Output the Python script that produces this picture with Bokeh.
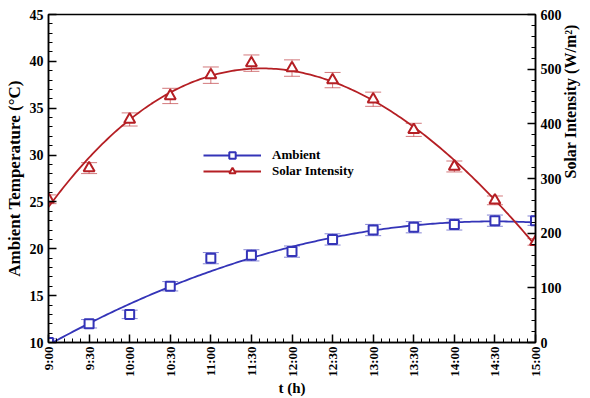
import math
import numpy as np
from bokeh.plotting import figure
from bokeh.models import (Range1d, LinearAxis, FixedTicker, ColumnDataSource,
                          Whisker, TeeHead, Legend, LegendItem)
from bokeh.embed import file_html
from bokeh.resources import INLINE

# ---- data ----
time_labels = ["9:00", "9:30", "10:00", "10:30", "11:00", "11:30", "12:00",
               "12:30", "13:00", "13:30", "14:00", "14:30", "15:00"]
hours = [9.0, 9.5, 10.0, 10.5, 11.0, 11.5, 12.0, 12.5, 13.0, 13.5, 14.0, 14.5, 15.0]
ambient = [10.0, 12.0, 13.0, 16.0, 19.0, 19.3, 19.7, 21.0, 22.0, 22.3, 22.6, 23.0, 23.0]
ambient_err = [0.4, 0.45, 0.45, 0.5, 0.6, 0.6, 0.6, 0.6, 0.6, 0.6, 0.6, 0.6, 0.5]
solar = [262, 319, 408, 451, 489, 511, 502, 480, 445, 389, 322, 260, 184]
solar_err = [8, 10, 12, 14, 15, 15, 15, 14, 13, 12, 10, 8, 6]

left_ticks = [10, 15, 20, 25, 30, 35, 40, 45]
right_ticks = [0, 100, 200, 300, 400, 500, 600]

BLUE = "#3434b8"
RED = "#b51f24"
FONT = "Liberation Serif"

amb_lo = [a - e for a, e in zip(ambient, ambient_err)]
amb_hi = [a + e for a, e in zip(ambient, ambient_err)]
sol_lo = [s - e for s, e in zip(solar, solar_err)]
sol_hi = [s + e for s, e in zip(solar, solar_err)]

src = ColumnDataSource(dict(t=hours, amb=ambient, amb_lo=amb_lo, amb_hi=amb_hi,
                            sol=solar, sol_lo=sol_lo, sol_hi=sol_hi))

# trend lines (least-squares fits of the data)
xs = np.linspace(hours[0], hours[-1], 200)
amb_fit = np.polyval(np.polyfit(hours, ambient, 2), xs)
sol_fit = np.polyval(np.polyfit(hours, solar, 3), xs)
fit = ColumnDataSource(dict(x=xs, amb=amb_fit, sol=sol_fit))

p = figure(width=590, height=398, output_backend="svg", toolbar_location=None,
           x_range=Range1d(9, 15), y_range=Range1d(10, 45),
           min_border_left=48, min_border_right=43, min_border_top=14,
           min_border_bottom=54, y_axis_location=None, x_axis_location=None)
p.extra_y_ranges = {"solar": Range1d(0, 600)}
p.grid.visible = False
p.outline_line_color = "black"
p.outline_line_width = 1.5
p.background_fill_color = "white"
p.border_fill_color = "white"


def style_axis(ax):
    ax.axis_line_width = 1.5
    ax.axis_line_color = "black"
    ax.major_tick_in = 8
    ax.major_tick_out = 0
    ax.minor_tick_in = 4
    ax.minor_tick_out = 0
    ax.major_tick_line_width = 1.5
    ax.major_label_text_font = FONT
    ax.major_label_text_font_style = "bold"
    ax.major_label_text_font_size = "14px"
    ax.major_label_text_color = "black"
    ax.axis_label_text_font = FONT
    ax.axis_label_text_font_style = "bold"
    ax.axis_label_text_font_size = "17px"
    ax.axis_label_text_color = "black"


xaxis = LinearAxis(axis_label="t (h)")
xaxis.ticker = FixedTicker(ticks=hours, minor_ticks=list(np.round(np.arange(9, 15.001, 0.1), 2)))
xaxis.major_label_overrides = {h: lab for h, lab in zip(hours, time_labels)}
style_axis(xaxis)
xaxis.major_label_orientation = math.pi / 2
xaxis.major_label_text_font_size = "13px"
xaxis.major_label_standoff = 4
xaxis.axis_label_standoff = 0
xaxis.axis_label_text_font_size = "15px"
p.add_layout(xaxis, "below")

yaxis = LinearAxis(axis_label="Ambient Temperature (°C)")
yaxis.ticker = FixedTicker(ticks=left_ticks, minor_ticks=list(range(10, 46)))
style_axis(yaxis)
yaxis.major_label_standoff = 5
yaxis.axis_label_standoff = 3
p.add_layout(yaxis, "left")

raxis = LinearAxis(y_range_name="solar", axis_label="Solar Intensity (W/m²)")
raxis.ticker = FixedTicker(ticks=right_ticks, minor_ticks=list(range(0, 601, 20)))
style_axis(raxis)
raxis.major_label_standoff = 5
raxis.axis_label_text_font_size = "16px"
raxis.axis_label_orientation = math.pi / 2
raxis.axis_label_standoff = 6
p.add_layout(raxis, "right")

# error bars
p.add_layout(Whisker(source=src, base="t", lower="amb_lo", upper="amb_hi",
                     line_color=BLUE, line_alpha=0.6, line_width=1,
                     upper_head=TeeHead(size=16, line_color=BLUE, line_alpha=0.6),
                     lower_head=TeeHead(size=16, line_color=BLUE, line_alpha=0.6)))
p.add_layout(Whisker(source=src, base="t", lower="sol_lo", upper="sol_hi",
                     y_range_name="solar",
                     line_color=RED, line_alpha=0.6, line_width=1,
                     upper_head=TeeHead(size=16, line_color=RED, line_alpha=0.6),
                     lower_head=TeeHead(size=16, line_color=RED, line_alpha=0.6)))

amb_line = p.line("x", "amb", source=fit, line_color=BLUE, line_width=1.8)
amb_pts = p.scatter("t", "amb", source=src, marker="square", size=9,
                    line_color=BLUE, line_width=2, fill_color="white")
sol_line = p.line("x", "sol", source=fit, line_color=RED, line_width=1.8,
                  y_range_name="solar")
sol_pts = p.scatter("t", "sol", source=src, marker="triangle", size=11,
                    line_color=RED, line_width=2, fill_color="white",
                    y_range_name="solar")

legend = Legend(items=[LegendItem(label="Ambient", renderers=[amb_line, amb_pts]),
                       LegendItem(label="Solar Intensity", renderers=[sol_line, sol_pts])],
                location=(155, 163), orientation="vertical")
legend.border_line_color = None
legend.background_fill_alpha = 0
legend.padding = 0
legend.margin = 0
legend.spacing = 0
legend.glyph_width = 58
legend.glyph_height = 16
legend.label_height = 16
legend.label_standoff = 11
legend.label_text_font = FONT
legend.label_text_font_style = "bold"
legend.label_text_font_size = "13px"
legend.label_text_color = "black"
p.add_layout(legend)

open("out.html", "w").write(file_html(p, INLINE))
